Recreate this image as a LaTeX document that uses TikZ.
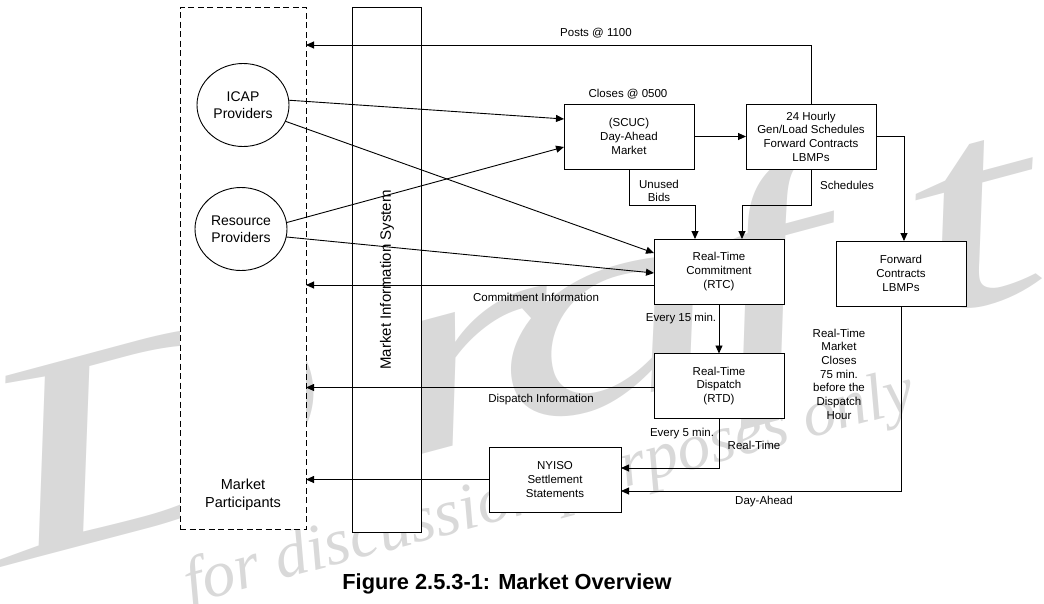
\documentclass[tikz,border=0pt]{standalone}
\usepackage{fontspec}
\setmainfont{Liberation Sans}
\newfontfamily\wmfont{Liberation Serif}
\usetikzlibrary{arrows.meta,calc,shapes.geometric}
\begin{document}
\begin{tikzpicture}[x=1pt,y=-1pt,
  every node/.style={inner sep=0pt, outer sep=0pt},
  box/.style={draw, fill=white, line width=0.9pt, minimum width=130pt, minimum height=65pt, align=center, font=\fontsize{11.5}{13.7}\selectfont},
  lbl/.style={align=center, font=\fontsize{11.5}{13.7}\selectfont},
  prov/.style={ellipse, draw, fill=white, line width=0.9pt, minimum width=92pt, minimum height=83pt, align=center, font=\fontsize{14}{17.5}\selectfont},
  conn/.style={line width=0.9pt},
  arr/.style={conn, -{Triangle[length=8pt,width=7pt]}},
  wm/.style={text=black!15, anchor=base west, rotate=15},
  wmbig/.style={wm, font=\wmfont\itshape\fontsize{280}{280}\selectfont}
]
\useasboundingbox (0,0) rectangle (1044,603);
\clip (0,0) rectangle (1044,603);
% watermark
\node[wmbig] (wmD) at (5,566) {\scalebox{1.75}[1]{D}};
\node[wmbig] (wmr) at (395,461.5) {\scalebox{1.75}[1]{r}};
\node[wmbig] (wma) at (510,430.7) {\scalebox{1.75}[1]{a}};
\node[wmbig] (wmf) at (720,374.4) {\scalebox{1.75}[1]{f}};
\node[wmbig] (wmt) at (925,319.4) {\scalebox{1.75}[1]{t}};
\node[wm, font=\wmfont\itshape\fontsize{66}{66}\selectfont] (wmdisc) at (190,604) {for discussion purposes only};
% columns
\node[draw, line width=0.9pt, dash pattern=on 6pt off 3.5pt, fill=white, minimum width=126pt, minimum height=522pt] (mp) at (243,268) {};
\node[font=\fontsize{14.5}{18}\selectfont, align=center] (mptext) at (243,495) {Market\\Participants};
\node[draw, line width=0.9pt, fill=white, minimum width=69pt, minimum height=525pt] (mis) at (386.5,269.5) {};
\node[rotate=90, font=\fontsize{15}{18}\selectfont] (mistext) at (387,280) {Market Information System};
% providers
\node[prov] (icap) at (243,105) {ICAP\\Providers};
\node[prov] (res) at (241,229) {Resource\\Providers};
% boxes
\node[box] (dam) at (629,136.5) {(SCUC)\\Day-Ahead\\Market};
\node[box] (h24) at (811,136.5) {24 Hourly\\Gen/Load Schedules\\Forward Contracts\\LBMPs};
\node[box] (rtc) at (719,271.5) {Real-Time\\Commitment\\(RTC)};
\node[box] (fc) at (901,273.5) {Forward\\Contracts\\LBMPs};
\node[box] (rtd) at (719,386) {Real-Time\\Dispatch\\(RTD)};
\node[box, minimum width=132pt] (set) at (555,479.5) {NYISO\\Settlement\\Statements};
% labels
\node[lbl] (lposts) at (596,33) {Posts @ 1100};
\node[lbl] (lcloses) at (628,94) {Closes @ 0500};
\node[lbl] (lunused) at (659,191) {Unused\\Bids};
\node[lbl] (lsched) at (847,185) {Schedules};
\node[lbl] (lcommit) at (536,297) {Commitment Information};
\node[lbl] (l15) at (681,319) {Every 15 min.};
\node[lbl] (ldisp) at (541,400) {Dispatch Information};
\node[lbl] (l5) at (682,434) {Every 5 min.};
\node[lbl] (lrt) at (754,445) {Real-Time};
\node[lbl] (lda) at (764,502) {Day-Ahead};
\node[lbl] (lclose) at (839,374) {Real-Time\\Market\\Closes\\75 min.\\before the\\Dispatch\\Hour};
\node[font=\bfseries\fontsize{21.8}{24}\selectfont] (caption) at (507,584) {Figure 2.5.3-1: Market Overview};
% coordinates
\coordinate (posts) at (0,45);
\coordinate (ub) at (695,205);
\coordinate (sc) at (742,205);
\coordinate (ci) at ($(rtc.north west)+(0,46)$);
\coordinate (di) at ($(rtd.north west)+(0,34)$);
\coordinate (rtin) at ($(set.north east)+(0,21)$);
\coordinate (dain) at ($(set.north east)+(0,44)$);
\coordinate (fcin) at ($(fc.north)+(3,0)$);
% connectors
\draw[arr] (icap.6) -- ($(dam.north west)+(0,15)$);
\draw[arr] (res.8) -- ($(dam.north west)+(0,43)$);
\draw[arr] (icap.-21) -- ($(rtc.north west)+(0,14)$);
\draw[arr] (res.-10) -- ($(rtc.north west)+(0,34)$);
\draw[arr] (h24.north) |- (mp.east |- posts);
\draw[arr] (dam.east) -- (h24.west);
\draw[arr] (dam.south) |- (ub) -- (ub |- rtc.north);
\draw[arr] (h24.south) |- (sc) -- (sc |- rtc.north);
\draw[arr] (h24.east) -| (fcin);
\draw[arr] (ci) -- (mp.east |- ci);
\draw[arr] (rtc.south) -- (rtd.north);
\draw[arr] (di) -- (mp.east |- di);
\draw[arr] (rtd.south) |- (rtin);
\draw[arr] (fc.south) |- (dain);
\draw[arr] (set.west) -- (mp.east |- set.west);
\end{tikzpicture}
\end{document}
